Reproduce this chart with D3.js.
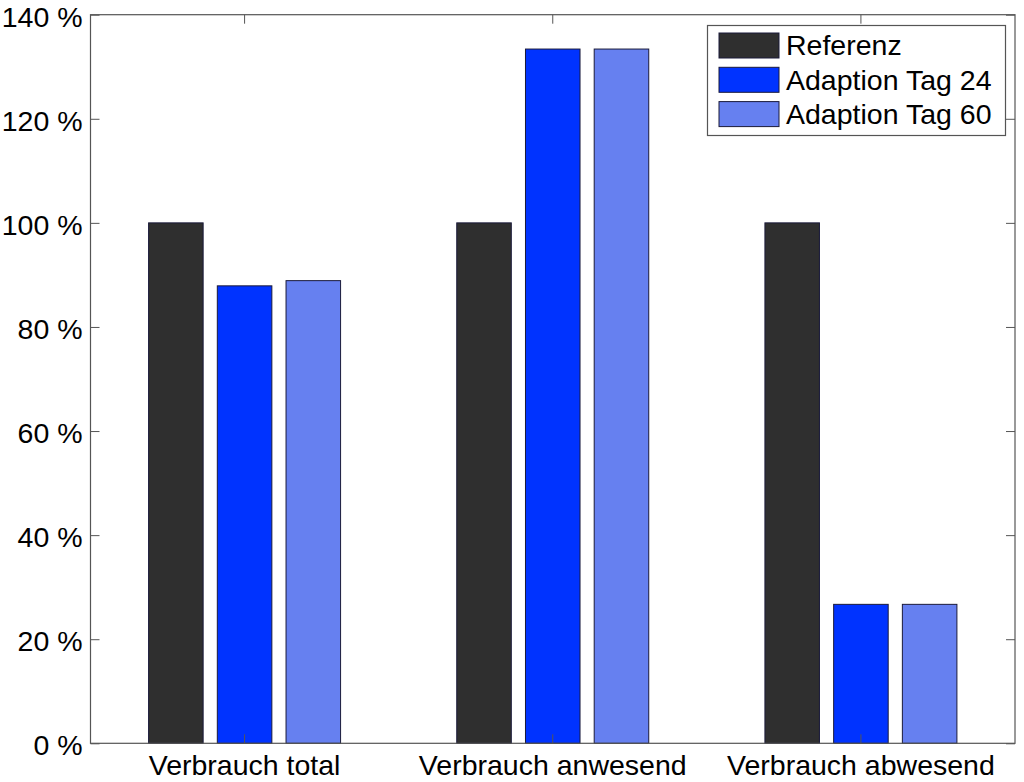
<!DOCTYPE html>
<html><head><meta charset="utf-8">
<script src="https://cdn.jsdelivr.net/npm/d3@7"></script>
<style>body{margin:0;background:#fff}svg{display:block}text{font-family:"Liberation Sans",Arial,sans-serif}</style>
</head><body>
<svg id="c" width="1024" height="782"></svg>
<script>
const categories = ["Verbrauch total", "Verbrauch anwesend", "Verbrauch abwesend"];
const seriesNames = ["Referenz", "Adaption Tag 24", "Adaption Tag 60"];
const referenz = [100, 100, 100];
const adaption24 = [87.9, 133.4, 26.7];
const adaption60 = [88.9, 133.4, 26.7];
const yTicks = [0, 20, 40, 60, 80, 100, 120, 140];
const colors = ["#2f2f2f", "#0033ff", "#6680f0"];

const series = [referenz, adaption24, adaption60];
const svg = d3.select("#c");
const L = 90.5, R = 1015, T = 14.7, B = 743.3;
const FS = 28.5;
const x = d3.scaleBand().domain(categories).range([L, R]).padding(0);
const y = d3.scaleLinear().domain([0, 140]).range([B, T]);
const bw = x.bandwidth();
const barW = bw * 0.177, off = bw * 0.223;

// bars
series.forEach((vals, si) => {
  svg.append("g").selectAll("rect").data(vals).join("rect")
    .attr("x", (d, i) => x(categories[i]) + bw / 2 + (si - 1) * off - barW / 2)
    .attr("y", d => y(d))
    .attr("width", barW)
    .attr("height", d => y(0) - y(d))
    .attr("fill", colors[si])
    .attr("stroke", "#1a1a3a").attr("stroke-width", 1);
});

const axisColor = "#555";
const tl = 9;
// left axis
const yl = svg.append("g").attr("transform", `translate(${L},0)`)
  .call(d3.axisLeft(y).tickValues(yTicks).tickFormat(d => d + " %").tickSizeInner(-tl).tickSizeOuter(0).tickPadding(8));
yl.selectAll("text").attr("font-size", FS).attr("fill", "#000").attr("dy", "0.4em");
// right axis ticks
svg.append("g").attr("transform", `translate(${R},0)`)
  .call(d3.axisRight(y).tickValues(yTicks).tickFormat("").tickSizeInner(-tl).tickSizeOuter(0));
// bottom axis
const xb = svg.append("g").attr("transform", `translate(0,${B})`)
  .call(d3.axisBottom(x).tickSizeInner(-tl).tickSizeOuter(0).tickPadding(11));
xb.selectAll("text").attr("font-size", FS).attr("fill", "#000");
svg.append("g").attr("transform", `translate(0,${T})`)
  .call(d3.axisTop(x).tickFormat("").tickSizeInner(-tl).tickSizeOuter(0));
svg.selectAll(".domain").remove();
svg.selectAll(".tick line").attr("stroke", axisColor);
// box
svg.append("rect").attr("x", L).attr("y", T).attr("width", R - L).attr("height", B - T)
  .attr("fill", "none").attr("stroke", axisColor).attr("stroke-width", 1.2);

// legend
const lg = svg.append("g");
lg.append("rect").attr("x", 707.5).attr("y", 25.5).attr("width", 298).attr("height", 110)
  .attr("fill", "#fff").attr("stroke", axisColor).attr("stroke-width", 1.2);
seriesNames.forEach((n, i) => {
  const yy = 33 + i * 34.3;
  lg.append("rect").attr("x", 719).attr("y", yy).attr("width", 60).attr("height", 25)
    .attr("fill", colors[i]).attr("stroke", "#1a1a3a");
  lg.append("text").attr("x", 786).attr("y", yy + 12.5).attr("dy", "0.35em")
    .attr("font-size", FS).attr("fill", "#000").text(n);
});
</script>
</body></html>
